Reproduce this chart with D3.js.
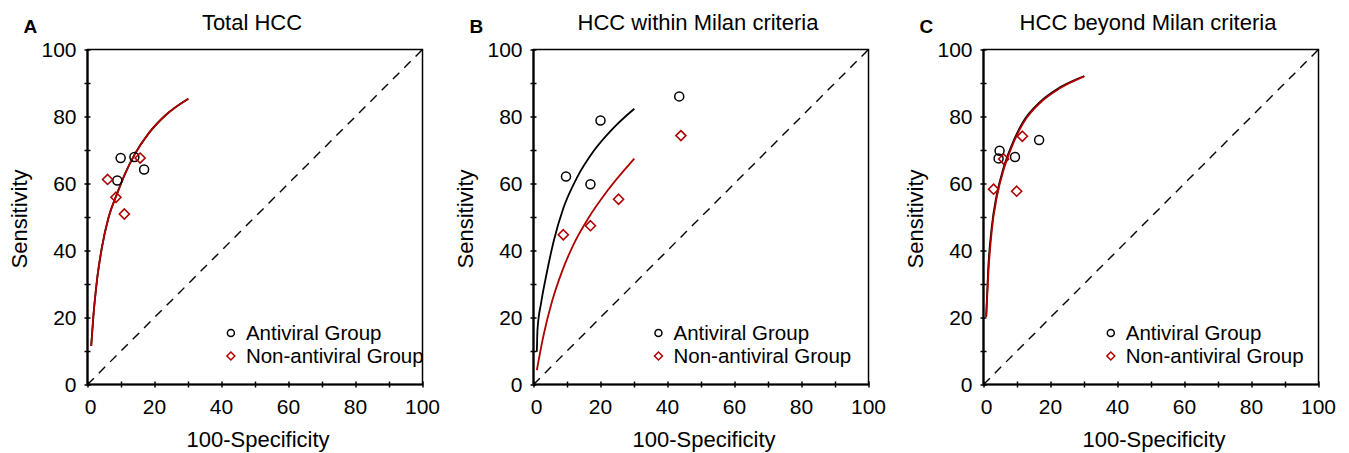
<!DOCTYPE html>
<html>
<head>
<meta charset="utf-8">
<script src="https://cdn.jsdelivr.net/npm/d3@7"></script>
<style>
  body { margin: 0; background: #fff; }
  svg text { font-family: "Liberation Sans", Arial, sans-serif; fill: #000; }
</style>
</head>
<body>
<svg id="chart" width="1349" height="453"></svg>
<script>
// ---- data ----
var panelLetters = ["A", "B", "C"];
var panelTitles = ["Total HCC", "HCC within Milan criteria", "HCC beyond Milan criteria"];
var tickLabels = [0, 20, 40, 60, 80, 100];
var minorTicks = [0, 10, 20, 30, 40, 50, 60, 70, 80, 90, 100];
var legendLabels = ["Antiviral Group", "Non-antiviral Group"];

// points: [100-specificity, sensitivity]
var antiviralA = [[9.9, 67.6], [14.0, 67.9], [8.9, 60.9], [16.9, 64.2]];
var nonAntiviralA = [[6.0, 61.2], [15.7, 67.6], [8.5, 55.9], [11.0, 50.9]];
var antiviralB = [[9.7, 62.1], [17.0, 59.8], [20.0, 78.8], [43.5, 86.0]];
var nonAntiviralB = [[8.9, 44.7], [17.0, 47.4], [25.4, 55.3], [44.0, 74.3]];
var antiviralC = [[4.8, 69.8], [4.5, 67.5], [9.4, 67.9], [16.6, 73.0]];
var nonAntiviralC = [[3.0, 58.3], [6.0, 67.3], [9.9, 57.7], [11.6, 74.1]];

// SROC curves
var srocAntiviralA = [[1.1, 11.5], [1.8, 21], [2.8, 30.9], [4.3, 40.9], [6.3, 49.9], [8.8, 56.9],
  [11.2, 62.9], [14.2, 68.9], [18.2, 74.9], [23.2, 80.3], [30.1, 85.3]];
var srocNonAntiviralA = [[1.1, 11.5], [1.8, 21], [2.8, 30.9], [4.3, 40.9], [6.3, 49.9], [8.8, 56.9],
  [11.2, 62.9], [14.2, 68.9], [18.2, 74.9], [23.2, 80.3], [30.1, 85.3]];
var srocAntiviralB = [[1.0, 9.8], [1.2, 16.5], [2.3, 24.5], [4.0, 33.5], [6.0, 42.7], [8.9, 52.6],
  [12.9, 61.6], [17.9, 69.6], [23.9, 76.6], [30.1, 82.3]];
var srocNonAntiviralB = [[1.0, 4.3], [3.0, 14.7], [5.5, 24.7], [8.5, 33.7], [11.9, 41.7], [16.4, 49.7],
  [21.9, 57.6], [30.1, 67.4]];
var srocAntiviralC = [[0.8, 20.2], [1.4, 34.4], [2.4, 46.5], [3.9, 56.4], [5.9, 64.4], [8.4, 71.4],
  [11.8, 78.4], [16.8, 84.3], [22.8, 88.7], [30.1, 92.1]];
var srocNonAntiviralC = [[0.8, 20.2], [1.5, 34.2], [2.5, 46.2], [4.0, 56.1], [6.0, 64.1], [8.5, 71.1],
  [11.9, 78.1], [16.9, 84.1], [22.9, 88.5], [30.1, 92.0]];

var panels = [
  { left: 87.5, av: antiviralA, nav: nonAntiviralA, avCurve: srocAntiviralA, navCurve: srocNonAntiviralA, legendX: 42.8 },
  { left: 533.5, av: antiviralB, nav: nonAntiviralB, avCurve: srocAntiviralB, navCurve: srocNonAntiviralB, legendX: 37.3 },
  { left: 983.5, av: antiviralC, nav: nonAntiviralC, avCurve: srocAntiviralC, navCurve: srocNonAntiviralC, legendX: 38 }
];

var size = 335, plotTop = 49.5;
var red = "#b00000";

var svg = d3.select("#chart");

panels.forEach(function(p, i) {
  var x = d3.scaleLinear().domain([0, 100]).range([0, size]);
  var y = d3.scaleLinear().domain([0, 100]).range([size, 0]);

  var g = svg.append("g").attr("transform", "translate(" + p.left + "," + plotTop + ")");

  // panel letter + title
  g.append("text")
    .attr("x", -64).attr("y", -17)
    .style("font-size", "19px").style("font-weight", "bold")
    .text(panelLetters[i]);
  g.append("text")
    .attr("x", size / 2 - 3).attr("y", -20)
    .attr("text-anchor", "middle")
    .style("font-size", "22px")
    .text(panelTitles[i]);

  // diagonal reference
  g.append("line")
    .attr("x1", x(0)).attr("y1", y(0))
    .attr("x2", x(100)).attr("y2", y(100))
    .attr("stroke", "#000").attr("stroke-width", 1.4)
    .attr("stroke-dasharray", "9,7");

  // axes (ticks crossing the frame)
  var xAxis = d3.axisBottom(x).tickValues(minorTicks).tickSize(6).tickFormat("");
  var yAxis = d3.axisLeft(y).tickValues(minorTicks).tickSize(6).tickFormat("");
  g.append("g").attr("transform", "translate(0," + (size - 3) + ")").call(xAxis)
    .call(function(s) { s.select(".domain").remove(); })
    .selectAll("line").attr("stroke-width", 1.5);
  g.append("g").attr("transform", "translate(3,0)").call(yAxis)
    .call(function(s) { s.select(".domain").remove(); })
    .selectAll("line").attr("stroke-width", 1.5);

  // frame
  g.append("rect")
    .attr("x", 0).attr("y", 0).attr("width", size).attr("height", size)
    .attr("fill", "none").attr("stroke", "#000").attr("stroke-width", 1.5);
  g.append("line").attr("x1", 0).attr("x2", 0).attr("y1", 0).attr("y2", size)
    .attr("stroke", "#000").attr("stroke-width", 2.2);
  g.append("line").attr("x1", 0).attr("x2", size).attr("y1", size).attr("y2", size)
    .attr("stroke", "#000").attr("stroke-width", 2.2);

  // tick labels
  g.selectAll(".xl").data(tickLabels).enter().append("text")
    .attr("x", function(d) { return x(d) + (d === 0 ? 3 : 0); })
    .attr("y", size + 29.5)
    .attr("text-anchor", "middle")
    .style("font-size", "21px")
    .text(function(d) { return d; });
  g.selectAll(".yl").data(tickLabels).enter().append("text")
    .attr("x", -11)
    .attr("y", function(d) { return y(d) + 7.5; })
    .attr("text-anchor", "end")
    .style("font-size", "21px")
    .text(function(d) { return d; });

  // axis titles
  g.append("text")
    .attr("x", size / 2 + 3).attr("y", size + 62)
    .attr("text-anchor", "middle")
    .style("font-size", "22px")
    .text("100-Specificity");
  g.append("text")
    .attr("transform", "translate(-61," + (size / 2 + 2) + ") rotate(-90)")
    .attr("text-anchor", "middle")
    .style("font-size", "22px")
    .text("Sensitivity");

  // SROC curves
  var line = d3.line()
    .x(function(d) { return x(d[0]); })
    .y(function(d) { return y(d[1]); })
    .curve(d3.curveMonotoneX);
  g.append("path").datum(p.avCurve)
    .attr("d", line).attr("fill", "none").attr("stroke", "#000").attr("stroke-width", 1.8);
  g.append("path").datum(p.navCurve)
    .attr("d", line).attr("fill", "none").attr("stroke", red).attr("stroke-width", 1.8);

  // markers
  g.selectAll(".av").data(p.av).enter().append("circle")
    .attr("cx", function(d) { return x(d[0]); })
    .attr("cy", function(d) { return y(d[1]); })
    .attr("r", 4.5)
    .attr("fill", "none").attr("stroke", "#000").attr("stroke-width", 1.5);
  var diamond = d3.symbol().type(d3.symbolDiamond2).size(64);
  g.selectAll(".nav").data(p.nav).enter().append("path")
    .attr("d", diamond)
    .attr("transform", function(d) { return "translate(" + x(d[0]) + "," + y(d[1]) + ")"; })
    .attr("fill", "none").attr("stroke", red).attr("stroke-width", 1.6);

  // legend
  var lx = x(p.legendX);
  g.append("circle")
    .attr("cx", lx).attr("cy", 283.5).attr("r", 3.5)
    .attr("fill", "none").attr("stroke", "#000").attr("stroke-width", 1.5);
  g.append("path")
    .attr("d", d3.symbol().type(d3.symbolDiamond2).size(40))
    .attr("transform", "translate(" + lx + ",306.5)")
    .attr("fill", "none").attr("stroke", red).attr("stroke-width", 1.5);
  g.selectAll(".lg").data(legendLabels).enter().append("text")
    .attr("x", lx + 15)
    .attr("y", function(d, j) { return 290.5 + j * 23; })
    .style("font-size", "20.5px")
    .text(function(d) { return d; });
});
</script>
</body>
</html>
